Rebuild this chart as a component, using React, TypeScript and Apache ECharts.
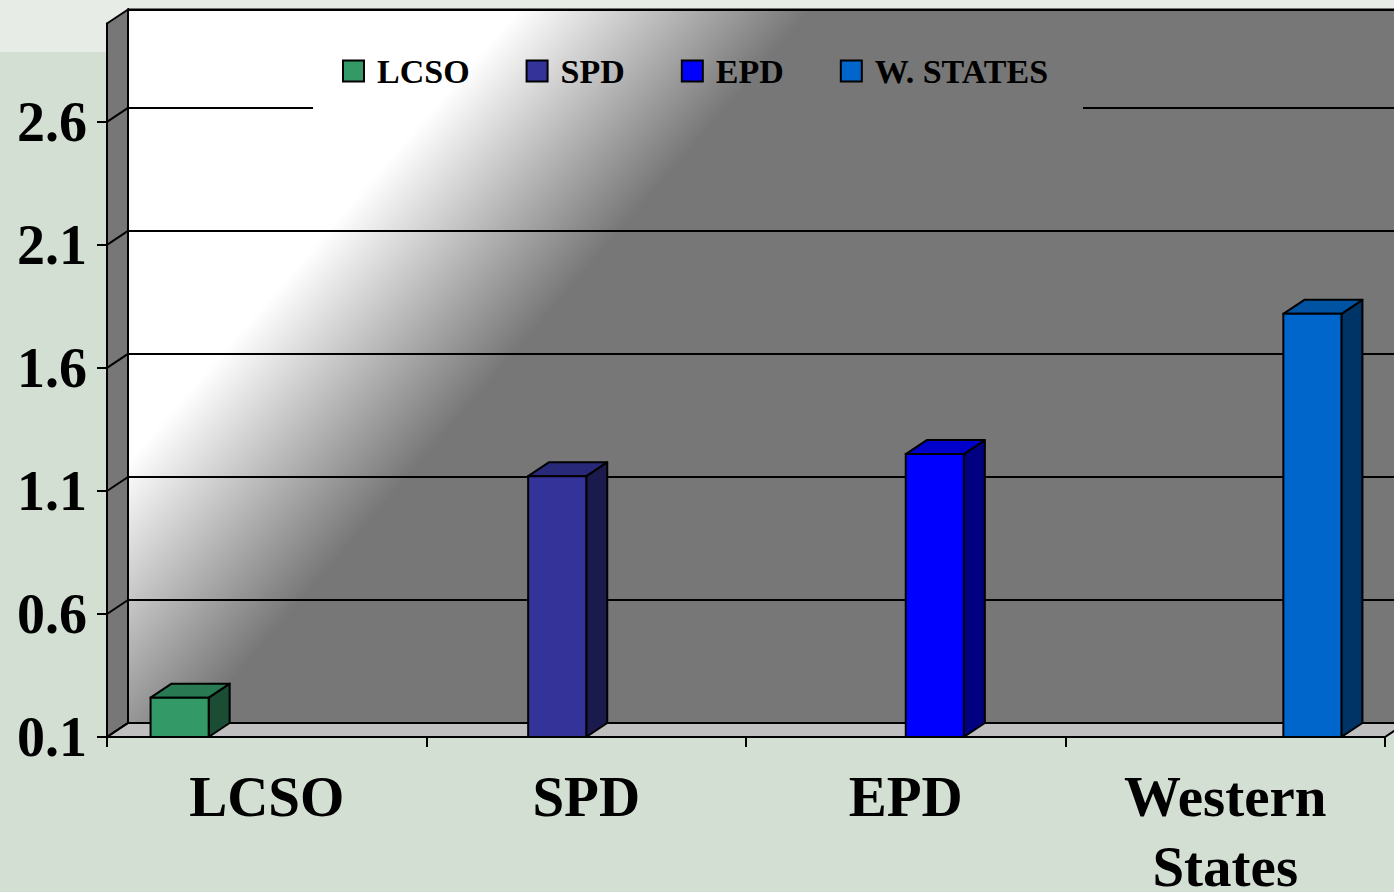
import React, { useEffect, useRef } from 'react';
import * as echarts from 'echarts';

const categories = ['LCSO', 'SPD', 'EPD', 'Western\nStates'];
const seriesNames = ['LCSO', 'SPD', 'EPD', 'W. STATES'];
const seriesValues = [0.26, 1.16, 1.25, 1.82];
const yTicks = [0.1, 0.6, 1.1, 1.6, 2.1, 2.6];
const Y_MIN = 0.1;
const Y_MAX = 3.0;
const Y_INTERVAL = 0.5;

const frontColors = ['#339966', '#333399', '#0000ff', '#0066cc'];
const topColors = ['#297a52', '#29297a', '#0000cc', '#0052a3'];
const sideColors = ['#1a4d33', '#1a1a4d', '#000080', '#003366'];

const DX = 21;
const DY = -14;
const FONT = '"Liberation Serif", "Times New Roman", serif';

const wallGradient = {
  type: 'linear',
  global: true,
  x: 301,
  y: 261,
  x2: 469,
  y2: 406,
  colorStops: [
    { offset: 0, color: '#ffffff' },
    { offset: 1, color: '#777777' },
  ],
};

export default function App() {
  const ref = useRef<HTMLDivElement>(null);

  useEffect(() => {
    if (!ref.current) return;
    const chart = echarts.init(ref.current, undefined, { renderer: 'svg' });

    const barSeries = seriesNames.map((name, i) => ({
      name,
      type: 'custom',
      xAxisIndex: 0,
      yAxisIndex: 0,
      z: 5,
      clip: false,
      itemStyle: { color: frontColors[i] },
      data: [[i, seriesValues[i]]],
      renderItem: (params: any, api: any) => {
        const cat = api.value(0);
        const val = api.value(1);
        const band = api.size([1, 0])[0];
        const top = api.coord([cat, val]);
        const bottom = api.coord([cat, Y_MIN]);
        const w = band / 5.5;
        const x0 = top[0] - 2 * w + i * w;
        const yT = top[1];
        const yB = bottom[1];
        return {
          type: 'group',
          children: [
            {
              type: 'polygon',
              shape: { points: [[x0 + w, yT], [x0 + w + DX, yT + DY], [x0 + w + DX, yB + DY], [x0 + w, yB]] },
              style: { fill: sideColors[i], stroke: '#000', lineWidth: 2, lineJoin: 'round' },
            },
            {
              type: 'polygon',
              shape: { points: [[x0, yT], [x0 + DX, yT + DY], [x0 + w + DX, yT + DY], [x0 + w, yT]] },
              style: { fill: topColors[i], stroke: '#000', lineWidth: 2, lineJoin: 'round' },
            },
            {
              type: 'rect',
              shape: { x: x0, y: yT, width: w, height: yB - yT },
              style: { fill: frontColors[i], stroke: '#000', lineWidth: 2 },
            },
          ],
        };
      },
    }));

    const frameSeries = {
      name: 'frame',
      type: 'custom',
      xAxisIndex: 0,
      yAxisIndex: 0,
      z: 2,
      clip: false,
      silent: true,
      data: [[0, Y_MIN]],
      renderItem: (params: any, api: any) => {
        const cs = params.coordSys;
        const x = cs.x;
        const w = cs.width;
        const yB = api.coord([0, Y_MIN])[1];
        const yT = api.coord([0, Y_MAX])[1];
        const children: any[] = [
          {
            type: 'polygon',
            shape: { points: [[x, yB], [x, yT], [x + DX, yT + DY], [x + DX, yB + DY]] },
            style: { fill: '#777777', stroke: '#000', lineWidth: 2 },
          },
          {
            type: 'polygon',
            shape: { points: [[x, yB], [x + DX, yB + DY], [x + w + DX, yB + DY], [x + w, yB]] },
            style: { fill: '#c0c0c0', stroke: '#000', lineWidth: 2 },
          },
        ];
        yTicks.forEach((v) => {
          const y = api.coord([0, v])[1];
          children.push({
            type: 'line',
            shape: { x1: x, y1: y, x2: x + DX, y2: y + DY },
            style: { stroke: '#000', lineWidth: 2 },
          });
        });
        return { type: 'group', children };
      },
    };

    chart.setOption({
      animation: false,
      backgroundColor: 'transparent',
      textStyle: { fontFamily: FONT },
      legend: {
        data: seriesNames,
        left: 342,
        top: 54,
        padding: 0,
        itemGap: 56,
        itemWidth: 21,
        itemHeight: 21,
        icon: 'rect',
        itemStyle: { borderColor: '#000', borderWidth: 2 },
        textStyle: {
          fontFamily: FONT,
          fontWeight: 'bold',
          fontSize: 34,
          color: '#000',
          padding: [0, 0, 0, 8],
        },
        z: 10,
      },
      grid: [
        { left: 107, right: 9, top: 23.5, bottom: 155, containLabel: false, outerBoundsMode: 'none' },
        {
          left: 128,
          right: -12,
          top: 9.5,
          bottom: 169,
          show: true,
          backgroundColor: wallGradient,
          borderColor: '#000',
          borderWidth: 2,
          containLabel: false,
          outerBoundsMode: 'none',
        },
      ],
      xAxis: [
        {
          type: 'category',
          gridIndex: 0,
          data: categories,
          boundaryGap: true,
          z: 6,
          axisLine: { show: true, lineStyle: { color: '#000', width: 2 } },
          axisTick: { show: true, inside: false, length: 10, lineStyle: { color: '#000', width: 2 } },
          axisLabel: {
            margin: 24,
            fontFamily: FONT,
            fontWeight: 'bold',
            fontSize: 57,
            lineHeight: 70,
            color: '#000',
          },
          splitLine: { show: false },
        },
        {
          type: 'category',
          gridIndex: 1,
          data: categories,
          show: false,
        },
      ],
      yAxis: [
        {
          type: 'value',
          gridIndex: 0,
          min: Y_MIN,
          max: Y_MAX,
          interval: Y_INTERVAL,
          z: 6,
          axisLine: { show: true, lineStyle: { color: '#000', width: 2 } },
          axisTick: {
            show: true,
            length: 10,
            customValues: yTicks,
            lineStyle: { color: '#000', width: 2 },
          },
          axisLabel: {
            margin: 20,
            customValues: yTicks,
            fontFamily: FONT,
            fontWeight: 'bold',
            fontSize: 56,
            color: '#000',
            formatter: (v: number) => v.toFixed(1),
          },
          splitLine: { show: false },
        },
        {
          type: 'value',
          gridIndex: 1,
          min: Y_MIN,
          max: Y_MAX,
          interval: Y_INTERVAL,
          axisLine: { show: false },
          axisTick: { show: false },
          axisLabel: { show: false },
          splitLine: { show: true, lineStyle: { color: '#000', width: 2 } },
        },
      ],
      graphic: [
        {
          type: 'rect',
          z: 1,
          silent: true,
          shape: { x: 313, y: 98, width: 770, height: 18 },
          style: { fill: wallGradient as any },
        },
      ],
      series: [frameSeries, ...barSeries],
    });

    return () => {
      chart.dispose();
    };
  }, []);

  return (
    <div
      style={{
        position: 'fixed',
        left: 0,
        top: 0,
        width: 1394,
        height: 892,
        background: 'linear-gradient(to bottom, #e7ede6 0px, #e7ede6 52px, #d4dfd3 52px, #d4dfd3 100%)',
      }}
    >
      <div ref={ref} style={{ width: 1394, height: 892 }} />
    </div>
  );
}
